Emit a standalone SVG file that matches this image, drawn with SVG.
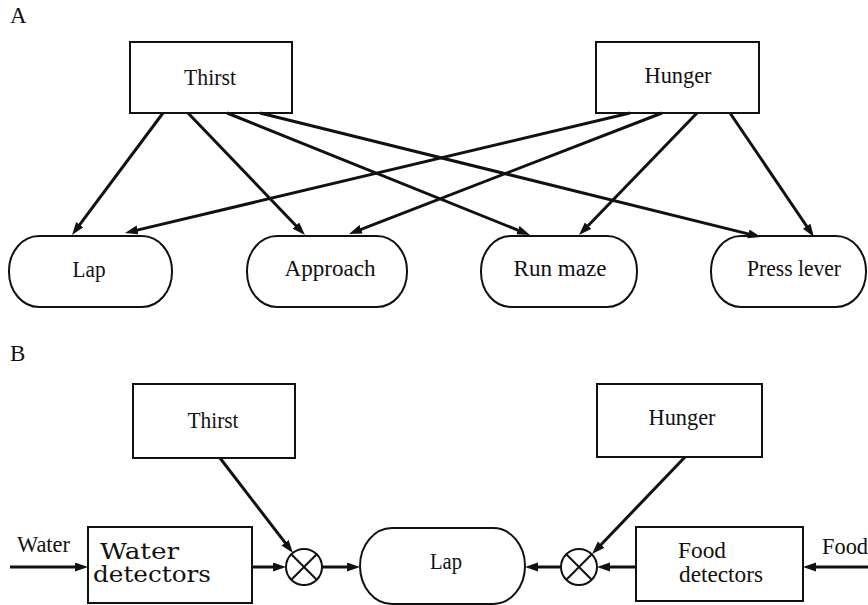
<svg xmlns="http://www.w3.org/2000/svg" width="868" height="605" viewBox="0 0 868 605">
  <style>
    text { font-family: "Liberation Serif", "DejaVu Serif", serif; font-size: 23px; fill: #111; }
    .lbl { text-anchor: middle; }
    .wide { font-family: "DejaVu Serif", "Liberation Serif", serif; font-size: 22px; }
    .box { fill: #fff; stroke: #111; stroke-width: 2; }
    .edge { stroke: #111; stroke-width: 3; fill: none; marker-end: url(#arrow); }
    .mult { fill: #fff; stroke: #111; stroke-width: 2; }
    .cross { stroke: #111; stroke-width: 2; }
  </style>
  <defs>
    <marker id="arrow" markerUnits="userSpaceOnUse" markerWidth="14" markerHeight="10" refX="7" refY="4.5" orient="auto">
      <path d="M0,0 L13,4.5 L0,9 z" fill="#111"/>
    </marker>
  </defs>
  <rect width="868" height="605" fill="#fff"/>

  <!-- Panel A -->
  <text x="10" y="23" font-size="20">A</text>
  <g id="a-thirst">
    <rect class="box" x="130" y="42" width="162" height="71"/>
    <text class="lbl" x="210" y="85" textLength="52" lengthAdjust="spacingAndGlyphs">Thirst</text>
  </g>
  <g id="a-hunger">
    <rect class="box" x="596" y="42" width="163" height="71"/>
    <text class="lbl" x="678" y="83" textLength="67" lengthAdjust="spacingAndGlyphs">Hunger</text>
  </g>
  <g id="a-lap">
    <rect class="box" x="9" y="236" width="163" height="71" rx="30" ry="35"/>
    <text class="lbl" x="89" y="277" textLength="33" lengthAdjust="spacingAndGlyphs">Lap</text>
  </g>
  <g id="a-approach">
    <rect class="box" x="247" y="236" width="160" height="71" rx="30" ry="35"/>
    <text class="lbl" x="330" y="276" textLength="91" lengthAdjust="spacingAndGlyphs">Approach</text>
  </g>
  <g id="a-runmaze">
    <rect class="box" x="481" y="236" width="156" height="71" rx="30" ry="35"/>
    <text class="lbl" x="560" y="276" textLength="93" lengthAdjust="spacingAndGlyphs">Run maze</text>
  </g>
  <g id="a-presslever">
    <rect class="box" x="711" y="236" width="155" height="71" rx="30" ry="35"/>
    <text class="lbl" x="794" y="276" textLength="94" lengthAdjust="spacingAndGlyphs">Press lever</text>
  </g>
  <g id="a-connectors">
    <line class="edge" x1="163" y1="113" x2="75.6" y2="230.2"/>
    <line class="edge" x1="630" y1="113" x2="130.8" y2="231.6"/>
    <line class="edge" x1="188" y1="113" x2="300.8" y2="230.7"/>
    <line class="edge" x1="662" y1="113" x2="354.6" y2="231.8"/>
    <line class="edge" x1="227" y1="113" x2="524.4" y2="232.8"/>
    <line class="edge" x1="697" y1="113" x2="583.2" y2="230.7"/>
    <line class="edge" x1="260" y1="113" x2="755.2" y2="235.6"/>
    <line class="edge" x1="730" y1="113" x2="810.6" y2="232.0"/>
  </g>

  <!-- Panel B -->
  <text x="10" y="361" font-size="20">B</text>
  <g id="b-thirst">
    <rect class="box" x="133" y="384" width="162" height="74"/>
    <text class="lbl" x="213" y="428" textLength="51" lengthAdjust="spacingAndGlyphs">Thirst</text>
  </g>
  <g id="b-hunger">
    <rect class="box" x="597" y="384" width="165" height="73"/>
    <text class="lbl" x="682" y="425" textLength="67" lengthAdjust="spacingAndGlyphs">Hunger</text>
  </g>
  <g id="b-water-detectors">
    <rect class="box" x="88" y="527" width="164" height="76"/>
    <text class="wide" x="100" y="559" textLength="79" lengthAdjust="spacingAndGlyphs">Water</text>
    <text class="wide" x="93" y="582" textLength="118" lengthAdjust="spacingAndGlyphs">detectors</text>
  </g>
  <g id="b-food-detectors">
    <rect class="box" x="636" y="527" width="167" height="74"/>
    <text x="678" y="558" textLength="48" lengthAdjust="spacingAndGlyphs">Food</text>
    <text x="679" y="582" textLength="84" lengthAdjust="spacingAndGlyphs">detectors</text>
  </g>
  <g id="b-lap">
    <rect class="box" x="360" y="528" width="165" height="76" rx="32" ry="38"/>
    <text class="lbl" x="446" y="569" textLength="32" lengthAdjust="spacingAndGlyphs">Lap</text>
  </g>
  <g id="b-mult-left">
    <circle class="mult" cx="304" cy="567" r="18"/>
    <line class="cross" x1="291.3" y1="554.3" x2="316.7" y2="579.7"/>
    <line class="cross" x1="291.3" y1="579.7" x2="316.7" y2="554.3"/>
  </g>
  <g id="b-mult-right">
    <circle class="mult" cx="579" cy="567" r="18"/>
    <line class="cross" x1="566.3" y1="554.3" x2="591.7" y2="579.7"/>
    <line class="cross" x1="566.3" y1="579.7" x2="591.7" y2="554.3"/>
  </g>
  <g id="b-inputs">
    <text x="17" y="552" textLength="53" lengthAdjust="spacingAndGlyphs">Water</text>
    <text x="822" y="554" textLength="46" lengthAdjust="spacingAndGlyphs">Food</text>
  </g>
  <g id="b-connectors">
    <line class="edge" x1="10" y1="567" x2="82" y2="567"/>
    <line class="edge" x1="252" y1="567" x2="280" y2="567"/>
    <line class="edge" x1="322" y1="567" x2="354" y2="567"/>
    <line class="edge" x1="868" y1="567" x2="809" y2="567"/>
    <line class="edge" x1="636" y1="567" x2="603" y2="567"/>
    <line class="edge" x1="561" y1="567" x2="531" y2="567"/>
    <line class="edge" x1="220" y1="458" x2="289.3" y2="548.2"/>
    <line class="edge" x1="685" y1="457" x2="596.2" y2="549.7"/>
  </g>
</svg>
